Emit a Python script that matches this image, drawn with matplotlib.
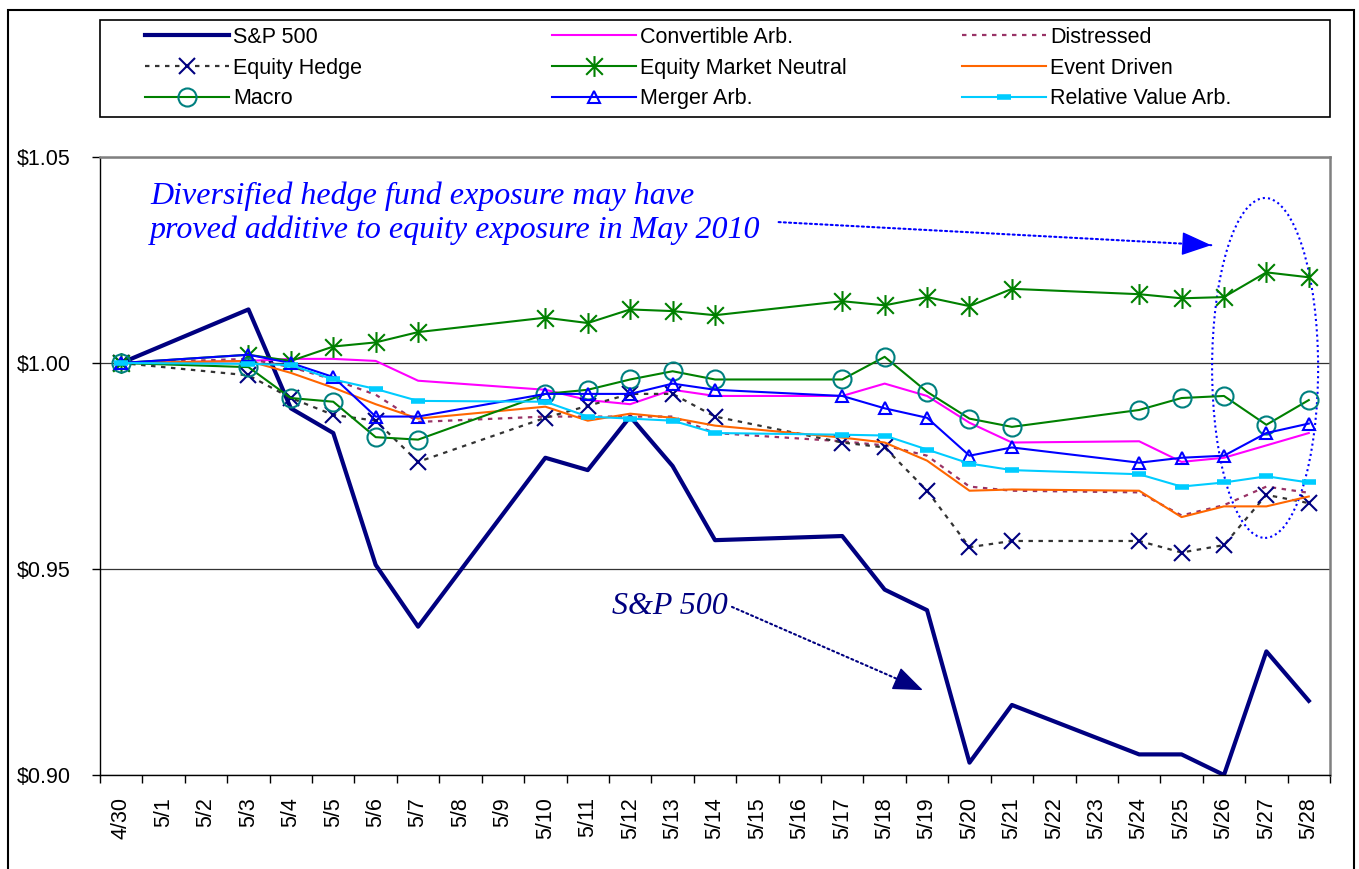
import matplotlib
matplotlib.use('Agg')
import matplotlib.pyplot as plt
from matplotlib.path import Path
from matplotlib.patches import Ellipse, Rectangle

plt.rcParams['font.family'] = ['Liberation Sans', 'DejaVu Sans']

# all calendar days on the axis
days = ['4/30', '5/1', '5/2', '5/3', '5/4', '5/5', '5/6', '5/7', '5/8', '5/9',
        '5/10', '5/11', '5/12', '5/13', '5/14', '5/15', '5/16', '5/17', '5/18',
        '5/19', '5/20', '5/21', '5/22', '5/23', '5/24', '5/25', '5/26', '5/27', '5/28']

# trading days with values
trade_days = ['4/30', '5/3', '5/4', '5/5', '5/6', '5/7', '5/10', '5/11', '5/12', '5/13',
              '5/14', '5/17', '5/18', '5/19', '5/20', '5/21', '5/24', '5/25', '5/26',
              '5/27', '5/28']

sp500 = [1.000, 1.013, 0.989, 0.983, 0.951, 0.936, 0.977, 0.974, 0.987, 0.975,
         0.957, 0.958, 0.945, 0.940, 0.903, 0.917, 0.905, 0.905, 0.900, 0.930, 0.918]
conv_arb = [1.000, 1.0005, 1.001, 1.001, 1.0005, 0.9957, 0.9935, 0.991, 0.990, 0.9935,
            0.992, 0.992, 0.995, 0.992, 0.9855, 0.9807, 0.981, 0.976, 0.977, 0.980, 0.983]
distressed = [1.000, 1.001, 0.999, 0.996, 0.9923, 0.9857, 0.987, 0.987, 0.987, 0.987,
              0.983, 0.981, 0.980, 0.9775, 0.970, 0.969, 0.9686, 0.963, 0.9655, 0.970, 0.9685]
equity_hedge = [1.000, 0.997, 0.9915, 0.9874, 0.986, 0.976, 0.9867, 0.9896, 0.9925, 0.9925,
                0.987, 0.9807, 0.9795, 0.969, 0.9553, 0.9568, 0.9568, 0.954, 0.9558, 0.968, 0.966]
emn = [1.000, 1.002, 1.0005, 1.004, 1.005, 1.0075, 1.011, 1.0097, 1.013, 1.0126,
       1.0116, 1.015, 1.014, 1.016, 1.0138, 1.018, 1.0167, 1.0157, 1.016, 1.022, 1.0208]
event_driven = [1.000, 1.0005, 0.9976, 0.994, 0.990, 0.9865, 0.9894, 0.986, 0.9877, 0.9867,
                0.9848, 0.9819, 0.9807, 0.9763, 0.969, 0.9693, 0.969, 0.9626, 0.9652, 0.9652, 0.9676]
macro = [1.000, 0.999, 0.9915, 0.9906, 0.982, 0.9814, 0.9925, 0.9935, 0.996, 0.998,
         0.996, 0.996, 1.0015, 0.993, 0.9865, 0.9845, 0.9886, 0.9915, 0.992, 0.985, 0.991]
merger_arb = [1.000, 1.002, 1.000, 0.9966, 0.987, 0.987, 0.9925, 0.9925, 0.9925, 0.995,
              0.9935, 0.992, 0.989, 0.9867, 0.9775, 0.9795, 0.9758, 0.977, 0.9775, 0.983, 0.9853]
rel_value = [1.000, 0.9998, 0.9995, 0.996, 0.9937, 0.9908, 0.9906, 0.987, 0.9865, 0.986,
             0.983, 0.9826, 0.9824, 0.979, 0.9756, 0.974, 0.973, 0.970, 0.971, 0.9725, 0.971]

y_ticks = [0.90, 0.95, 1.00, 1.05]

x = [days.index(d) for d in trade_days]

star = Path([(0, -1), (0, 1), (-0.8, -0.8), (0.8, 0.8), (-0.8, 0.8), (0.8, -0.8)],
            [Path.MOVETO, Path.LINETO] * 3)

W, H = 1359, 869
fig = plt.figure(figsize=(W / 100, H / 100), dpi=100)
ax = fig.add_axes([100 / W, 1 - 775 / H, 1230 / W, 618 / H])

ax.plot(x, sp500, color='#000080', lw=3, label='S&P 500')
ax.plot(x, conv_arb, color='#FF00FF', lw=1.5, label='Convertible Arb.')
ax.plot(x, distressed, color='#993366', lw=1.6, ls=(0, (2, 2.5)), label='Distressed')
ax.plot(x, equity_hedge, color='#333333', lw=1.6, ls=(0, (2, 2.5)), marker='x', ms=12,
        mec='#000080', mew=1.5, label='Equity Hedge')
ax.plot(x, emn, color='#008000', lw=1.5, marker=star, ms=15, mec='#008000', mew=1.5,
        label='Equity Market Neutral')
ax.plot(x, event_driven, color='#FF6600', lw=1.5, label='Event Driven')
ax.plot(x, macro, color='#008000', lw=1.5, marker='o', ms=13, mfc='none', mec='#008080',
        mew=1.5, label='Macro')
ax.plot(x, merger_arb, color='#0000FF', lw=1.5, marker='^', ms=9, mfc='none', mec='#0000FF',
        mew=1.5, label='Merger Arb.')
ax.plot(x, rel_value, color='#00CCFF', lw=1.5, marker='_', ms=10, mec='#00CCFF', mew=4,
        label='Relative Value Arb.')

ax.set_xlim(-0.5, len(days) - 0.5)
ax.set_ylim(0.90, 1.05)
ax.set_xticks(range(len(days)))
ax.set_xticklabels(days, rotation=90, fontsize=15.5)
ax.set_xticks([i - 0.5 for i in range(len(days) + 1)], minor=True)
ax.tick_params(axis='x', which='major', length=0, pad=16)
ax.tick_params(axis='x', which='minor', length=6, width=1, direction='out')
ax.set_yticks(y_ticks)
ax.set_yticklabels(['$%.2f' % v for v in y_ticks], fontsize=15.5)
ax.tick_params(axis='y', length=6, width=1, direction='out', pad=15)
ax.yaxis.grid(True, color='#333333', lw=0.9)
ax.set_axisbelow(True)
for s in ['top', 'right']:
    ax.spines[s].set_color('#808080')
    ax.spines[s].set_linewidth(1.8)
for s in ['left', 'bottom']:
    ax.spines[s].set_color('black')
    ax.spines[s].set_linewidth(1.0)


def dotted_arrow(start, end, color):
    # dotted shaft, then a solid filled head at the end
    ax.annotate('', xy=end, xytext=start,
                arrowprops=dict(arrowstyle='-', color=color, lw=1.5, ls=(0, (1, 1.5)),
                                shrinkA=0, shrinkB=0))
    back = (end[0] - 0.02 * (end[0] - start[0]), end[1] - 0.02 * (end[1] - start[1]))
    ax.annotate('', xy=end, xytext=back,
                arrowprops=dict(arrowstyle='-|>,head_length=1.9,head_width=0.75',
                                color=color, lw=1, shrinkA=0, shrinkB=0))


# annotations
ax.text(0.68, 1.0363, 'Diversified hedge fund exposure may have\nproved additive to equity exposure in May 2010',
        color='#0000FF', fontsize=23, family='Liberation Serif', style='italic',
        ha='left', va='center', linespacing=1.2)
dotted_arrow((15.5, 1.0342), (25.7, 1.0286), '#0000FF')
ax.text(11.57, 0.9408, 'S&P 500', color='#000080', fontsize=23, family='Liberation Serif',
        style='italic', ha='left', va='center')
dotted_arrow((14.4, 0.9408), (18.9, 0.9206), '#000080')
ax.add_patch(Ellipse((26.97, 0.9988), 2.5, 0.0825, fill=False, ec='#0000FF', lw=1.5,
                     ls=(0, (1, 1.5)), clip_on=False))

# legend: three columns placed at even spacing like the original
h, l = ax.get_legend_handles_labels()
columns = [[0, 3, 6], [1, 4, 7], [2, 5, 8]]
col_x = [145, 552, 962]
for cx, idx in zip(col_x, columns):
    fig.legend([h[i] for i in idx], [l[i] for i in idx], loc='center left',
               bbox_to_anchor=(cx / W, 1 - 68 / H), frameon=False, fontsize=15.5,
               handlelength=3.9, handletextpad=0.2, labelspacing=0.46,
               borderpad=0, borderaxespad=0)
fig.patches.append(Rectangle((100 / W, 1 - 117 / H), 1230 / W, 97 / H, transform=fig.transFigure,
                             fill=False, ec='black', lw=1.2))
fig.patches.append(Rectangle((8 / W, -0.1), 1346 / W, 1.1 - 10 / H, transform=fig.transFigure,
                             fill=False, ec='black', lw=1.5))

fig.savefig('out.png', dpi=100)
